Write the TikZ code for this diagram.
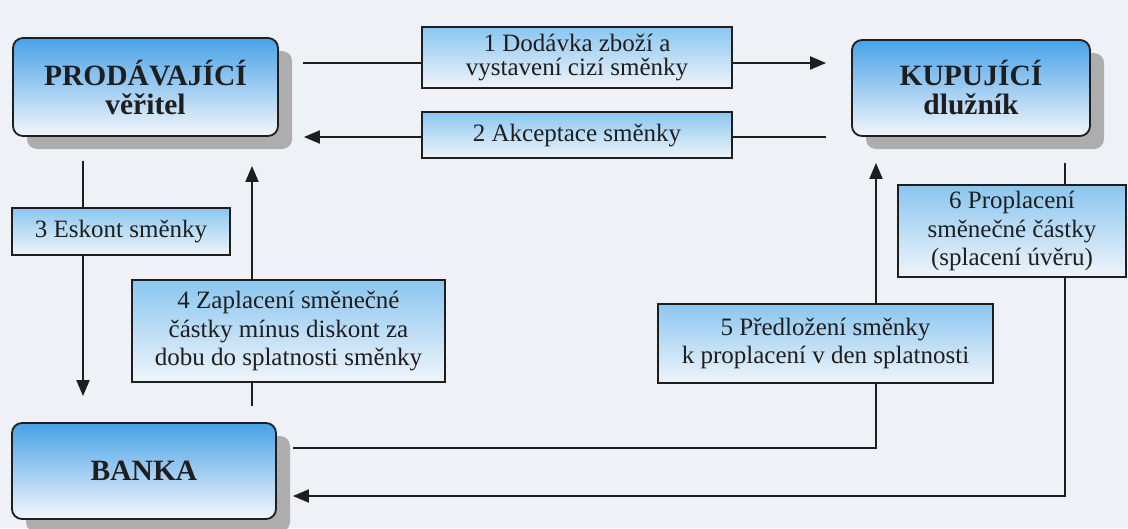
\documentclass[tikz,border=0pt]{standalone}
\usepackage{fontspec}
\setmainfont{Liberation Serif}
\usetikzlibrary{arrows.meta,shadows}
\definecolor{bgc}{RGB}{238,242,247}
\definecolor{maintop}{RGB}{72,162,232}
\definecolor{mainmid}{RGB}{160,206,242}
\definecolor{mainbot}{RGB}{244,246,251}
\definecolor{smalltop}{RGB}{138,198,240}
\definecolor{smallbot}{RGB}{240,244,250}
\definecolor{ink}{RGB}{30,30,30}
\tikzset{
  mainbox/.style={draw=ink, line width=1.8pt, rounded corners=10pt,
    top color=maintop, middle color=mainmid, bottom color=mainbot,
    drop shadow={shadow xshift=14pt, shadow yshift=-13pt, fill=black!32, opacity=1},
    align=center, text=ink, font=\bfseries\fontsize{29.5}{29}\selectfont,
    inner sep=0pt},
  smallbox/.style={draw=ink, line width=1.6pt,
    top color=smalltop, bottom color=smallbot,
    align=center, text=ink, font=\fontsize{25}{28.5}\selectfont, inner sep=0pt},
  conn/.style={draw=ink, line width=1.9pt},
  arr/.style={conn, -{Triangle[length=16pt,width=13pt]}}
}
\begin{document}
\begin{tikzpicture}[x=1pt,y=-1pt]
\useasboundingbox (0,0) rectangle (1128,528);
\fill[bgc] (0,0) rectangle (1128,528);
% main nodes
\node[mainbox, minimum width=265pt, minimum height=98pt] (prod) at (145.5,87) {PRODÁVAJÍCÍ\\věřitel};
\node[mainbox, minimum width=238pt, minimum height=96pt] (kup) at (971,88) {KUPUJÍCÍ\\dlužník};
\node[mainbox, minimum width=264pt, minimum height=96pt] (bank) at (144,471) {BANKA};
% step boxes
\node[smallbox, minimum width=310pt, minimum height=61pt, font=\fontsize{25}{24.5}\selectfont] (s1) at (577,57.5) {1 Dodávka zboží a\\vystavení cizí směnky};
\node[smallbox, minimum width=310pt, minimum height=46pt] (s2) at (577,135) {2 Akceptace směnky};
\node[smallbox, minimum width=218pt, minimum height=47pt] (s3) at (121,231.5) {3 Eskont směnky};
\node[smallbox, minimum width=313pt, minimum height=102pt] (s4) at (288.5,331) {4 Zaplacení směnečné\\částky mínus diskont za\\dobu do splatnosti směnky};
\node[smallbox, minimum width=335pt, minimum height=79pt] (s5) at (825.5,343.5) {5 Předložení směnky\\k proplacení v den splatnosti};
\node[smallbox, minimum width=228pt, minimum height=92pt] (s6) at (1012,231) {6 Proplacení\\směnečné částky\\(splacení úvěru)};
% helper coordinates
\coordinate (y1) at (0,63);
\coordinate (y2) at (0,137);
\coordinate (x3) at (83,0);
\coordinate (x4) at (252,0);
\coordinate (x5) at (876,0);
\coordinate (x6) at (1065,0);
\coordinate (c5) at (876,448);
\coordinate (c6) at (1065,496);
% 1
\draw[conn, shorten <=24pt] (prod.east |- y1) -- (s1.west |- y1);
\draw[arr, shorten >=25pt] (s1.east |- y1) -- (kup.west |- y1);
% 2
\draw[conn, shorten <=25pt] (kup.west |- y2) -- (s2.east |- y2);
\draw[arr, shorten >=25pt] (s2.west |- y2) -- (prod.east |- y2);
% 3
\draw[conn, shorten <=24pt] (x3 |- prod.south) -- (x3 |- s3.north);
\draw[arr, shorten >=26pt] (x3 |- s3.south) -- (x3 |- bank.north);
% 4
\draw[conn, shorten <=16pt] (x4 |- bank.north) -- (x4 |- s4.south);
\draw[arr, shorten >=29pt] (x4 |- s4.north) -- (x4 |- prod.south);
% 5
\draw[arr, shorten >=26pt] (x5 |- s5.north) -- (x5 |- kup.south);
\draw[conn, shorten >=16pt] (x5 |- s5.south) -- (c5) -- (c5 -| bank.east);
% 6
\draw[conn, shorten <=26pt] (x6 |- kup.south) -- (x6 |- s6.north);
\draw[arr, shorten >=16pt] (x6 |- s6.south) -- (c6) -- (c6 -| bank.east);
\end{tikzpicture}
\end{document}
